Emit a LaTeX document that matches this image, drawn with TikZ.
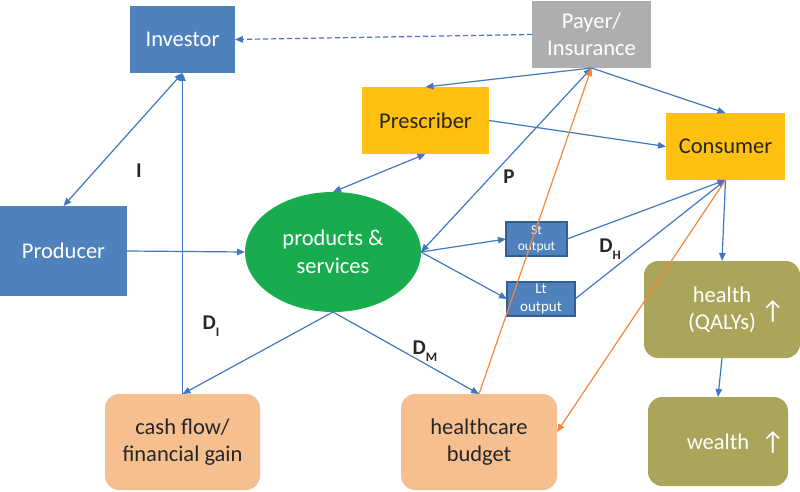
\documentclass[tikz,border=0pt]{standalone}
\usepackage{fontspec}
\setmainfont{Carlito}
\newfontfamily\symfont{DejaVu Sans}
\usetikzlibrary{arrows.meta,shapes.geometric}
\definecolor{boxblue}{HTML}{4F81BD}
\definecolor{outborder}{HTML}{2F5F93}
\definecolor{linkblue}{HTML}{4177C0}
\definecolor{payergray}{HTML}{AEAEAF}
\definecolor{consyellow}{HTML}{FFC010}
\definecolor{textdark}{HTML}{262626}
\definecolor{prodgreen}{HTML}{19AC4E}
\definecolor{budgetorange}{HTML}{F6BF90}
\definecolor{olivebox}{HTML}{ABA55C}
\definecolor{orangeline}{HTML}{F5873A}
\begin{document}
\begin{tikzpicture}[x=1pt,y=-1pt,
  >={Triangle[length=8pt,width=6.5pt]},
  base/.style={inner sep=0pt, outer sep=0pt, align=center, font=\fontsize{22.5}{27.5}\selectfont},
  bluebox/.style={base, rectangle, fill=boxblue, text=white},
  graybox/.style={base, rectangle, fill=payergray, text=white},
  yellowbox/.style={base, rectangle, fill=consyellow, text=textdark},
  orangebox/.style={base, rectangle, rounded corners=14pt, fill=budgetorange, text=textdark},
  olbox/.style={base, rectangle, rounded corners=14pt, fill=olivebox, text=white},
  outbox/.style={base, rectangle, fill=boxblue, draw=outborder, line width=1.6pt, text=white, font=\fontsize{13.5}{16.5}\selectfont},
  lbl/.style={inner sep=0pt, font=\fontsize{21}{21}\selectfont\bfseries, text=textdark},
  link/.style={draw=linkblue, line width=1.2pt, ->},
  twoway/.style={draw=linkblue, line width=1.2pt, <->},
  olink/.style={draw=orangeline, line width=1.2pt, ->},
  uparrow/.style={inner sep=0pt, text=white, font=\fontsize{26}{26}\selectfont}
]
\useasboundingbox (0,0) rectangle (800,492);

% nodes
\node[bluebox, minimum width=105pt, minimum height=67pt] (inv) at (182.5,39.5) {Investor};
\node[graybox, minimum width=119pt, minimum height=67pt] (pay) at (591.5,34.5) {Payer/\\Insurance};
\node[yellowbox, minimum width=127pt, minimum height=67pt] (pre) at (425.5,120.5) {Prescriber};
\node[yellowbox, minimum width=119pt, minimum height=67pt] (con) at (725.5,146.5) {Consumer};
\node[bluebox, minimum width=127pt, minimum height=90pt] (pro) at (63.5,251) {Producer};
\node[base, ellipse, fill=prodgreen, text=white, minimum width=176pt, minimum height=120pt] (ps) at (333,252) {products \&\\services};
\node[outbox, minimum width=61pt, minimum height=34pt] (st) at (536.5,239) {St\\output};
\node[outbox, minimum width=68pt, minimum height=34pt, font=\fontsize{15}{18}\selectfont] (lt) at (541,299) {Lt\\output};
\node[olbox, minimum width=156pt, minimum height=97pt] (hea) at (722,309.5) {health\\(QALYs)};
\node[olbox, minimum width=140pt, minimum height=89pt] (wea) at (718,441.5) {wealth};
\node[orangebox, minimum width=155pt, minimum height=96pt] (cash) at (182.5,442) {cash flow/\\financial gain};
\node[orangebox, minimum width=156pt, minimum height=96pt] (bud) at (479,442) {healthcare\\budget};
\node[uparrow] (up1) at (773,311) {↑};
\node[uparrow] (up2) at (773,442) {↑};

% labels
\node[lbl] (lI) at (139,171) {I};
\node[lbl] (lP) at (509,177) {P};
\node[lbl] (lDI) at (211,326) {D\raisebox{-0.35em}{\fontsize{13}{13}\selectfont I}};
\node[lbl] (lDH) at (610,249) {D\raisebox{-0.35em}{\fontsize{13}{13}\selectfont H}};
\node[lbl] (lDM) at (425,351) {D\raisebox{-0.35em}{\fontsize{13}{13}\selectfont M}};

% connectors
\draw[link, dashed, dash pattern=on 5pt off 3pt] (pay.west) -- (inv.east);
\draw[twoway] (inv.south) -- (pro.north);
\draw[link] (cash.north) -- (inv.south);
\draw[link] (pro.east) -- (ps.west);
\draw[link] (ps.south) -- (cash.north);
\draw[link] (ps.south) -- (bud.north);
\draw[twoway] (ps.north) -- (pre.south);
\draw[link] (pay.south) -- (pre.north);
\draw[link] (pay.south) -- (con.north);
\draw[link] (pre.east) -- (con.west);
\draw[twoway] (ps.east) -- (pay.south);
\draw[link] (ps.east) -- (st.west);
\draw[link] (ps.east) -- (lt.west);
\draw[link] (st.east) -- (con.south);
\draw[link] (lt.east) -- (con.south);
\draw[link] (con.south) -- (hea.north);
\draw[link] (hea.south) -- (wea.north);
\draw[olink] (bud.north) -- (pay.south);
\draw[olink] (con.south) -- ([yshift=10pt]bud.east);
\end{tikzpicture}
\end{document}
